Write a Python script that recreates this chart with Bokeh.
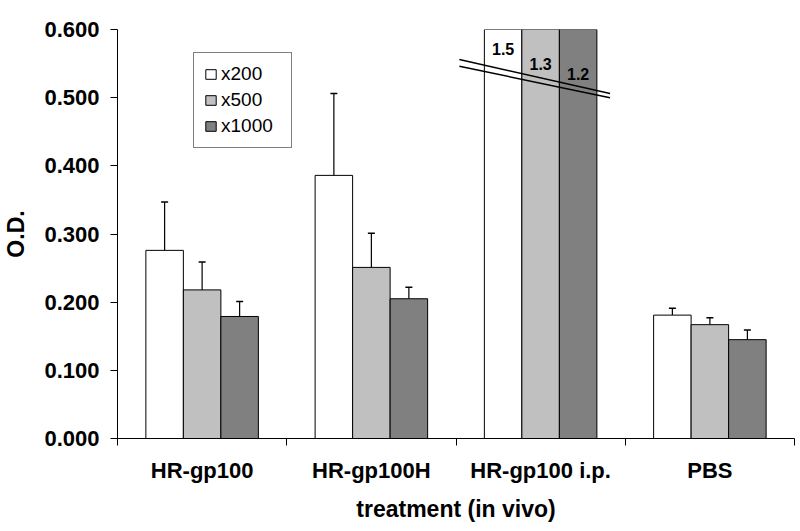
from bokeh.plotting import figure
from bokeh.models import (ColumnDataSource, FixedTicker, Range1d, Legend, LegendItem,
                          Whisker, TeeHead, NumeralTickFormatter)
from bokeh.core.properties import value
from bokeh.embed import file_html
from bokeh.resources import INLINE

# ---- data ----
categories = ["HR-gp100", "HR-gp100H", "HR-gp100 i.p.", "PBS"]
series_names = ["x200", "x500", "x1000"]
od_x200 = [0.276, 0.386, 1.5, 0.181]
od_x500 = [0.218, 0.251, 1.3, 0.167]
od_x1000 = [0.179, 0.205, 1.2, 0.145]
err_x200 = [0.071, 0.120, None, 0.010]
err_x500 = [0.041, 0.050, None, 0.010]
err_x1000 = [0.022, 0.017, None, 0.014]
y_ticks = [0.0, 0.1, 0.2, 0.3, 0.4, 0.5, 0.6]

# ---- style ----
FONT = "Liberation Sans"
COLORS = ["#FFFFFF", "#C0C0C0", "#808080"]
BAR_W = 0.2216
Y_MAX = 0.6
LABEL_Y = [0.571, 0.549, 0.535]   # positions of the out-of-range value labels

p = figure(width=800, height=531, x_range=Range1d(0, 4), y_range=Range1d(0, Y_MAX),
           output_backend="svg", toolbar_location=None,
           min_border_left=117, min_border_right=6, min_border_top=29, min_border_bottom=93)
p.xgrid.grid_line_color = None
p.ygrid.grid_line_color = None
p.outline_line_color = None
p.background_fill_color = "white"
p.border_fill_color = "white"

values = [od_x200, od_x500, od_x1000]
errors = [err_x200, err_x500, err_x1000]
renderers = []
for i, (name, vals, errs) in enumerate(zip(series_names, values, errors)):
    xs = [g + 0.5 + (i - 1) * BAR_W for g in range(len(categories))]
    src = ColumnDataSource(dict(x=xs, top=vals))
    r = p.vbar(x="x", top="top", width=BAR_W, bottom=0, source=src,
               fill_color=COLORS[i], line_color="black", line_width=1)
    renderers.append(r)
    ex = [x for x, e in zip(xs, errs) if e is not None]
    lo = [v for v, e in zip(vals, errs) if e is not None]
    up = [v + e for v, e in zip(vals, errs) if e is not None]
    wsrc = ColumnDataSource(dict(base=ex, lower=lo, upper=up))
    w = Whisker(base="base", lower="lower", upper="upper", source=wsrc,
                lower_head=None, upper_head=TeeHead(size=7, line_width=1.5, line_color="black"),
                line_color="black", line_width=1.2)
    p.add_layout(w)

# labels for bars beyond the axis maximum
lx, ly, lt = [], [], []
for i, vals in enumerate(values):
    for g, v in enumerate(vals):
        if v > Y_MAX:
            lx.append(g + 0.5 + (i - 1) * BAR_W)
            ly.append(LABEL_Y[i])
            lt.append(f"{v:.1f}")
p.text(x=lx, y=ly, text=lt, text_font=value(FONT), text_font_style="bold",
       text_font_size="16px", text_align="center", text_baseline="middle", text_color="black")

# axis break marks on the out-of-range group
gb = categories.index("HR-gp100 i.p.")
p.segment(x0=[gb + 0.02, gb + 0.02], y0=[0.556, 0.546], x1=[gb + 0.91, gb + 0.91],
          y1=[0.506, 0.500], line_color="black", line_width=1.5)

# y axis
ya = p.yaxis[0]
ya.ticker = FixedTicker(ticks=y_ticks)
ya.formatter = NumeralTickFormatter(format="0.000")
ya.minor_tick_line_color = None
ya.major_tick_out = 7
ya.major_tick_in = 0
ya.major_label_standoff = 11
ya.axis_label = "O.D."
ya.axis_label_standoff = 12

# x axis
xa = p.xaxis[0]
xa.ticker = FixedTicker(ticks=[g + 0.5 for g in range(len(categories))],
                        minor_ticks=list(range(len(categories) + 1)))
xa.major_label_overrides = {g + 0.5: c for g, c in enumerate(categories)}
xa.major_tick_out = 0
xa.major_tick_in = 0
xa.minor_tick_out = 7
xa.minor_tick_in = 0
xa.minor_tick_line_color = "black"
xa.major_label_standoff = 12
xa.axis_label = "treatment (in vivo)"
xa.axis_label_standoff = 10

for ax in (xa, ya):
    ax.axis_line_color = "black"
    ax.axis_line_width = 1
    ax.major_tick_line_color = "black"
    ax.major_label_text_font = FONT
    ax.major_label_text_font_style = "bold"
    ax.major_label_text_font_size = "22px"
    ax.major_label_text_color = "black"
    ax.axis_label_text_font = FONT
    ax.axis_label_text_font_style = "bold"
    ax.axis_label_text_font_size = "23px"
    ax.axis_label_text_color = "black"

legend = Legend(items=[LegendItem(label=n, renderers=[r]) for n, r in zip(series_names, renderers)],
                location=(76, 290), label_text_font=FONT, label_text_font_size="19px",
                label_text_color="black", glyph_width=13, glyph_height=12,
                label_height=21, label_width=60, label_standoff=4, spacing=4, padding=10,
                margin=0, border_line_color="black", border_line_width=1,
                background_fill_color="white", background_fill_alpha=1)
p.add_layout(legend)

open("out.html", "w").write(file_html(p, INLINE))
